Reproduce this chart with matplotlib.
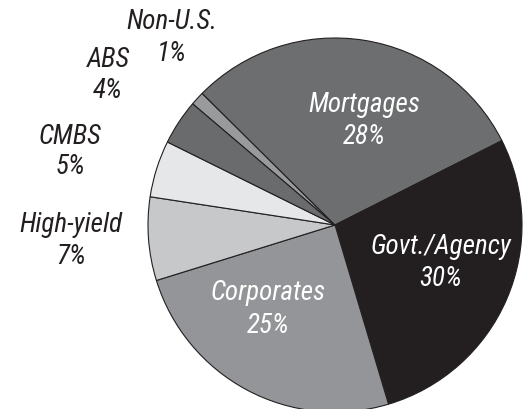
import matplotlib
matplotlib.use("Agg")
import matplotlib.pyplot as plt

# Data (wedge sizes as drawn, in percent) and label texts
categories = ["Non-U.S.", "Mortgages", "Govt./Agency", "Corporates", "High-yield", "CMBS", "ABS"]
sizes = [1.2, 30.1, 27.8, 24.8, 7.2, 4.9, 3.9]
pct_labels = ["1%", "28%", "30%", "25%", "7%", "5%", "4%"]
colors = ["#999a9c", "#6d6e70", "#231f20", "#939598", "#c7c8ca", "#e6e7e8", "#6a6b6d"]

W, H = 525, 409
fig = plt.figure(figsize=(W / 100, H / 100), dpi=100)
ax = fig.add_axes([0, 0, 1, 1])

cx, cy, r = 335, H - 225, 187
ax.pie(sizes, colors=colors, startangle=139.6, counterclock=False,
       center=(cx, cy), radius=r,
       wedgeprops=dict(edgecolor="#231f20", linewidth=0.8))
ax.set_xlim(0, W)
ax.set_ylim(0, H)
ax.set_aspect("equal")
ax.axis("off")

font = dict(family=["Liberation Sans Narrow", "Roboto Condensed", "Roboto", "DejaVu Sans"],
            style="italic", fontsize=19.5)

# label positions (pixel coords from top-left) and colours
label_pos = {
    "Non-U.S.": (172, 22, 54, "#231f20"),
    "Mortgages": (364, 105, 137, "white"),
    "Govt./Agency": (441, 247, 279, "white"),
    "Corporates": (268, 293, 326, "white"),
    "High-yield": (71, 225, 257, "#231f20"),
    "CMBS": (70, 137, 167, "#231f20"),
    "ABS": (108, 60, 91, "#231f20"),
}
for cat, pct in zip(categories, pct_labels):
    x, y1, y2, c = label_pos[cat]
    ax.text(x, H - y1, cat, ha="center", va="center", color=c, **font)
    ax.text(x, H - y2, pct, ha="center", va="center", color=c, **font)

fig.savefig("out.png", dpi=100)
